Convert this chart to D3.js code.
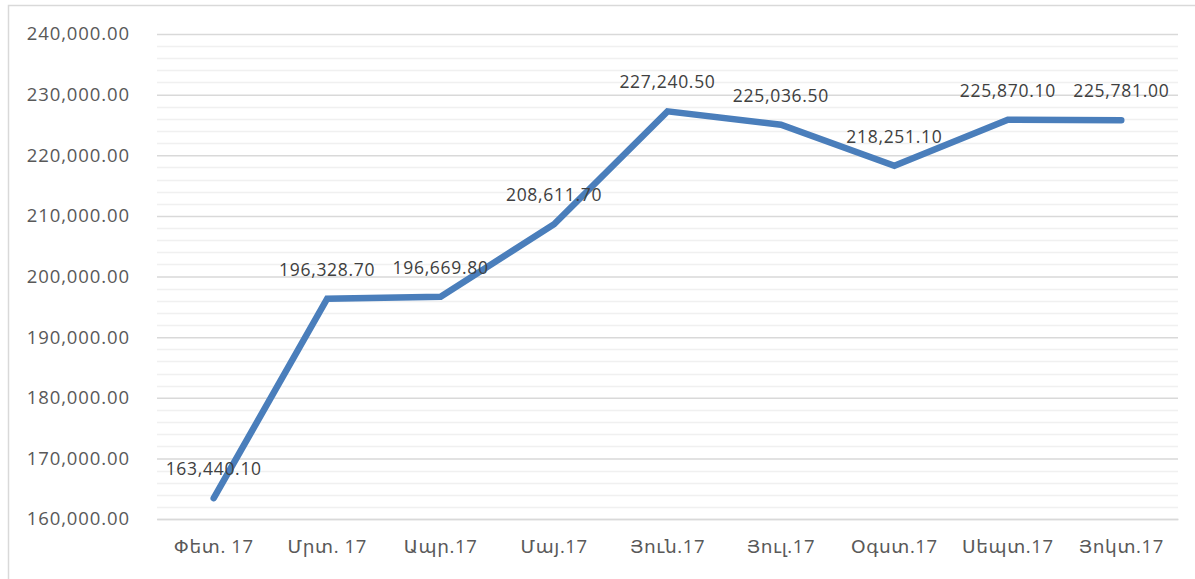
<!DOCTYPE html>
<html>
<head>
<meta charset="utf-8">
<script src="https://cdn.jsdelivr.net/npm/d3@7"></script>
<style>
  body { margin: 0; background: #fff; overflow: hidden; }
  #chart svg { display: block; }
</style>
</head>
<body>
<div id="chart"></div>
<script>
// Data
const months = ["Փետ. 17", "Մրտ. 17", "Ապր.17", "Մայ.17", "Յուն.17", "Յուլ.17", "Օգստ.17", "Սեպտ.17", "Յոկտ.17"];
const values = [163440.10, 196328.70, 196669.80, 208611.70, 227240.50, 225036.50, 218251.10, 225870.10, 225781.00];
const yTicks = [160000, 170000, 180000, 190000, 200000, 210000, 220000, 230000, 240000];
const yMinorTicks = d3.range(160000, 240001, 2000);

// Dimensions
const width = 1195;
const height = 579;
const margin = { top: 34, right: 17, bottom: 60, left: 157 };
const innerWidth = width - margin.left - margin.right;
const innerHeight = height - margin.top - margin.bottom;

const svg = d3.select("#chart")
  .append("svg")
    .attr("width", width)
    .attr("height", height);

// chart frame (only left and top edges are inside the picture)
svg.append("path")
    .attr("d", `M8.5,${height} V5.5 H${width}`)
    .attr("fill", "none")
    .attr("stroke", "#d9d9d9")
    .attr("stroke-width", 1.5);

const g = svg.append("g")
    .attr("transform", `translate(${margin.left}, ${margin.top})`);

const xScale = d3.scaleBand()
  .domain(months)
  .range([0, innerWidth]);
const yScale = d3.scaleLinear()
  .domain([160000, 240000])
  .range([innerHeight, 0]);

const fmt = d3.format(",.2f");

// minor gridlines
g.append("g")
    .attr("class", "grid-minor")
  .selectAll("line")
  .data(yMinorTicks.filter(d => d % 10000 !== 0))
  .join("line")
    .attr("x1", 0)
    .attr("x2", innerWidth)
    .attr("y1", d => Math.round(yScale(d)) + 0.5)
    .attr("y2", d => Math.round(yScale(d)) + 0.5)
    .attr("stroke", "#f0f0f0")
    .attr("stroke-width", 1.5);

// y axis with major gridlines
const leftAxis = d3.axisLeft(yScale)
  .tickValues(yTicks)
  .tickSize(-innerWidth)
  .tickPadding(27)
  .tickFormat(fmt);
const yAxis = g.append("g")
    .attr("class", "axis axis-y")
    .call(leftAxis);
yAxis.select(".domain").remove();
yAxis.selectAll(".tick line")
    .attr("stroke", "#d9d9d9")
    .attr("stroke-width", 1.5);
yAxis.selectAll(".tick text")
    .attr("fill", "#595959")
    .style("font-family", "'Open Sans', sans-serif")
    .style("font-size", "18.5px")
    .style("letter-spacing", "0.9px");

// x axis
const bottomAxis = d3.axisBottom(xScale)
  .tickSize(0)
  .tickPadding(21);
const xAxis = g.append("g")
    .attr("class", "axis axis-x")
    .attr("transform", `translate(0, ${innerHeight})`)
    .call(bottomAxis);
xAxis.select(".domain")
    .attr("stroke", "#d9d9d9")
    .attr("stroke-width", 1.5);
xAxis.selectAll(".tick text")
    .attr("fill", "#595959")
    .style("font-family", "'Open Sans', 'DejaVu Sans', sans-serif")
    .style("font-size", "18.5px")
    .style("letter-spacing", "0.6px");

// line
const line = d3.line()
  .x((d, i) => xScale(months[i]) + xScale.bandwidth() / 2)
  .y(d => yScale(d));
g.append("path")
    .datum(values)
    .attr("d", line)
    .attr("fill", "none")
    .attr("stroke", "#4a7ebb")
    .attr("stroke-width", 6.5)
    .attr("stroke-linecap", "round")
    .attr("stroke-linejoin", "miter");

// data labels
g.append("g")
    .attr("class", "labels")
  .selectAll("text")
  .data(values)
  .join("text")
    .attr("x", (d, i) => xScale(months[i]) + xScale.bandwidth() / 2)
    .attr("y", d => yScale(d) - 23)
    .attr("text-anchor", "middle")
    .attr("fill", "#404040")
    .style("font-family", "'Open Sans', sans-serif")
    .style("font-size", "17.5px")
    .style("letter-spacing", "0.7px")
    .text(d => fmt(d));
</script>
</body>
</html>
